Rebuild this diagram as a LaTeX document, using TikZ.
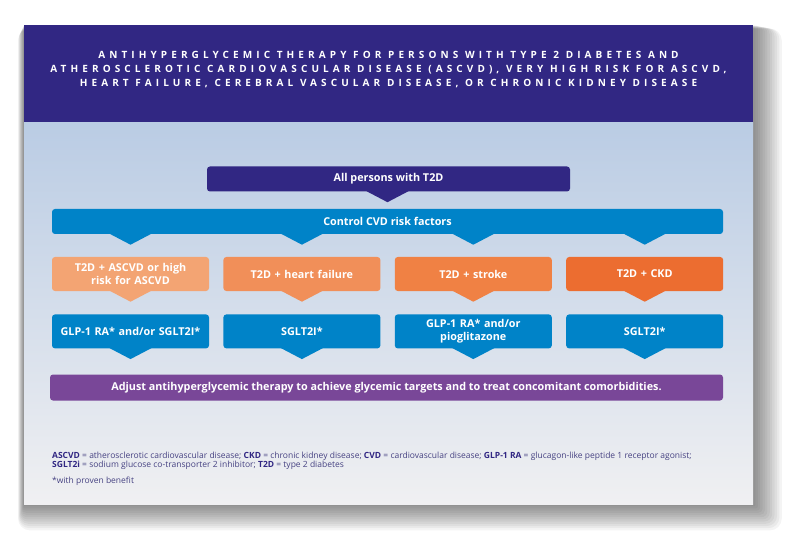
\documentclass[tikz,border=0pt]{standalone}
\usepackage{fontspec}
\setmainfont{Open Sans}
\newfontfamily\titlefont[LetterSpace=41]{Open Sans}
\usetikzlibrary{positioning,calc}
\definecolor{hdblue}{RGB}{49,39,131}
\definecolor{ctrlblue}{RGB}{0,131,200}
\definecolor{oranga}{RGB}{243,164,115}
\definecolor{orangb}{RGB}{241,143,89}
\definecolor{orangc}{RGB}{240,129,68}
\definecolor{orangd}{RGB}{236,109,48}
\definecolor{adjpurple}{RGB}{121,71,152}
\definecolor{bodytop}{RGB}{186,204,228}
\definecolor{bodymid}{RGB}{222,228,238}
\definecolor{bodybot}{RGB}{240,240,242}
\definecolor{notetext}{RGB}{70,66,130}
\begin{document}
\begin{tikzpicture}[x=1pt,y=-1pt,node distance=14pt,
    box/.style={rounded corners=3pt,text=white,align=center,inner sep=0pt,
      font=\bfseries\fontsize{10.8}{12.5}\selectfont},
    wide/.style={box,minimum height=25pt},
    col/.style={box,minimum width=157pt,minimum height=34pt,text width=150pt},
    note/.style={anchor=west,inner sep=0pt,text=notetext,
      font=\fontsize{8.5}{9}\selectfont}]
    \useasboundingbox (0,0) rectangle (800,553);
    \fill[white] (0,0) rectangle (800,553);
    \foreach \i in {1,...,12}
      \fill[black,opacity=0.045,rounded corners=\i pt]
        (24-0.5*\i,25+0.3*\i) rectangle (753+2.4*\i,504+2.2*\i);
    \fill[hdblue] (24,25) rectangle (753,123);
    \shade[top color=bodytop,middle color=bodymid,bottom color=bodybot]
      (24,123) rectangle (753,504);
    \node[text=white,align=center,font=\titlefont\bfseries\fontsize{10}{14}\selectfont]
      (title) at (388.5,70) {ANTIHYPERGLYCEMIC THERAPY FOR PERSONS WITH TYPE 2 DIABETES AND\\
      ATHEROSCLEROTIC CARDIOVASCULAR DISEASE (ASCVD), VERY HIGH RISK FOR ASCVD,\\
      HEART FAILURE, CEREBRAL VASCULAR DISEASE, OR CHRONIC KIDNEY DISEASE};

    \node[wide,fill=hdblue,minimum width=363pt] (all) at (388.5,179) {All persons with T2D};
    \node[wide,fill=ctrlblue,minimum width=671pt] (ctrl) at (387.5,221.5) {Control CVD risk factors};

    \node[col,fill=oranga] (oa) at (130.5,274) {T2D + ASCVD or high\\risk for ASCVD};
    \node[col,fill=orangb,right=of oa] (ob) {T2D + heart failure};
    \node[col,fill=orangc,right=of ob] (oc) {T2D + stroke};
    \node[col,fill=orangd,right=of oc] (od) {T2D + CKD};

    \node[col,fill=ctrlblue,below=23pt of oa] (ga) {GLP-1 RA* and/or SGLT2I*};
    \node[col,fill=ctrlblue,below=23pt of ob] (gb) {SGLT2I*};
    \node[col,fill=ctrlblue,below=23pt of oc] (gc) {GLP-1 RA* and/or\\pioglitazone};
    \node[col,fill=ctrlblue,below=23pt of od] (gd) {SGLT2I*};

    \node[wide,fill=adjpurple,minimum width=673pt,minimum height=26pt] (adj) at (386.5,387.5)
      {Adjust antihyperglycemic therapy to achieve glycemic targets and to treat concomitant comorbidities.};

    \foreach \a/\b/\c in {all/ctrl/hdblue,ctrl/oa/ctrlblue,ctrl/ob/ctrlblue,ctrl/oc/ctrlblue,
        ctrl/od/ctrlblue,oa/oa/oranga,ob/ob/orangb,oc/oc/orangc,od/od/orangd,
        ga/ga/ctrlblue,gb/gb/ctrlblue,gc/gc/ctrlblue,gd/gd/ctrlblue}
      \fill[\c] ($(\a.south -| \b)+(-21,-0.5)$) -- ++(21,11) -- ++(21,-11) -- cycle;

    \node[note] (abbr1) at (52,456) {\textbf{\color{hdblue}ASCVD} = atherosclerotic cardiovascular disease;
      \textbf{\color{hdblue}CKD} = chronic kidney disease; \textbf{\color{hdblue}CVD} = cardiovascular disease;
      \textbf{\color{hdblue}GLP-1 RA} = glucagon-like peptide 1 receptor agonist;};
    \node[note] (abbr2) at (52,465) {\textbf{\color{hdblue}SGLT2i} = sodium glucose co-transporter 2 inhibitor;
      \textbf{\color{hdblue}T2D} = type 2 diabetes};
    \node[note] (star) at (52,481) {*with proven benefit};
\end{tikzpicture}
\end{document}
